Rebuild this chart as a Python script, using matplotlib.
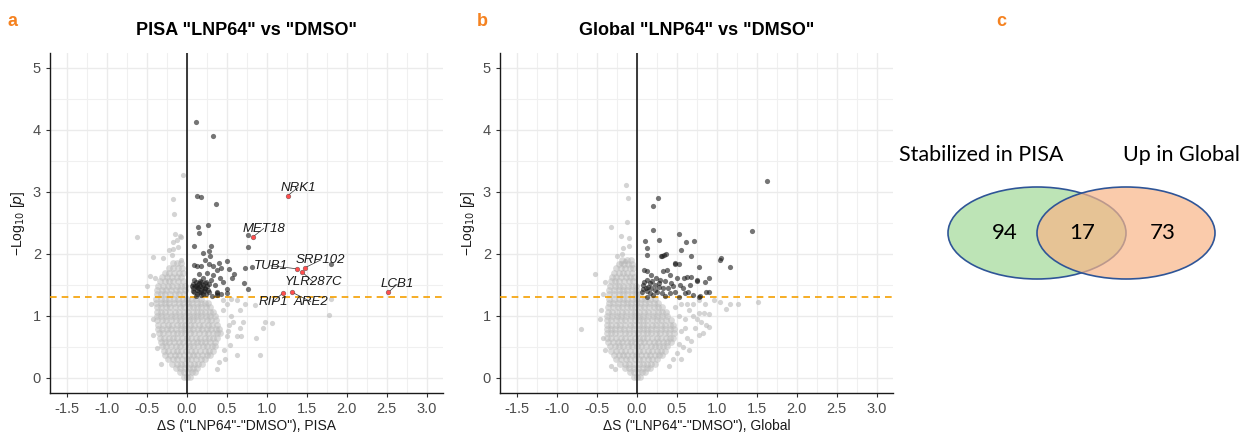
import matplotlib
matplotlib.use("Agg")
import matplotlib.pyplot as plt
from matplotlib.patches import Ellipse
from matplotlib.ticker import MultipleLocator

plt.rcParams['font.family'] = ['Liberation Sans', 'DejaVu Sans']

# ---------------- data: panel a (PISA) ----------------
# dense grey core, one row of points per -log10 p level
pisa_core_y = [0.02, 0.09, 0.16, 0.23, 0.30, 0.37, 0.44, 0.51, 0.58, 0.65, 0.72, 0.79,
               0.86, 0.93, 1.00, 1.07, 1.14, 1.21, 1.28, 1.35, 1.42, 1.49, 1.56, 1.63,
               1.70, 1.78, 1.86]
pisa_core_x = [
    [-0.04, 0.0, 0.04],
    [-0.09, -0.04, 0.01, 0.06, 0.10],
    [-0.14, -0.09, -0.03, 0.02, 0.07, 0.12],
    [-0.19, -0.13, -0.08, -0.02, 0.04, 0.09, 0.14, 0.19],
    [-0.24, -0.18, -0.12, -0.06, 0.0, 0.05, 0.11, 0.17, 0.22],
    [-0.27, -0.21, -0.15, -0.10, -0.04, 0.02, 0.08, 0.13, 0.19, 0.25, 0.29],
    [-0.29, -0.24, -0.18, -0.12, -0.07, -0.01, 0.05, 0.10, 0.16, 0.22, 0.27, 0.32],
    [-0.31, -0.26, -0.20, -0.14, -0.09, -0.03, 0.03, 0.08, 0.14, 0.20, 0.25, 0.31, 0.35],
    [-0.33, -0.27, -0.22, -0.16, -0.10, -0.05, 0.01, 0.07, 0.12, 0.18, 0.23, 0.29, 0.35],
    [-0.34, -0.29, -0.23, -0.17, -0.12, -0.06, 0.0, 0.05, 0.11, 0.16, 0.22, 0.28, 0.33, 0.38],
    [-0.35, -0.30, -0.24, -0.18, -0.13, -0.07, -0.02, 0.04, 0.09, 0.15, 0.21, 0.26, 0.32, 0.38, 0.41],
    [-0.36, -0.31, -0.25, -0.20, -0.14, -0.08, -0.03, 0.03, 0.08, 0.14, 0.19, 0.25, 0.30, 0.36, 0.40],
    [-0.36, -0.30, -0.24, -0.19, -0.13, -0.07, -0.02, 0.04, 0.09, 0.15, 0.20, 0.26, 0.31, 0.37],
    [-0.37, -0.31, -0.26, -0.20, -0.14, -0.09, -0.03, 0.02, 0.08, 0.13, 0.19, 0.25, 0.30, 0.36],
    [-0.37, -0.32, -0.26, -0.20, -0.15, -0.09, -0.04, 0.02, 0.07, 0.13, 0.18, 0.24, 0.29, 0.35],
    [-0.38, -0.32, -0.27, -0.21, -0.15, -0.10, -0.04, 0.01, 0.07, 0.12, 0.18, 0.23, 0.29, 0.33],
    [-0.38, -0.32, -0.26, -0.21, -0.15, -0.09, -0.04, 0.02, 0.07, 0.13, 0.18, 0.24, 0.29],
    [-0.39, -0.33, -0.27, -0.22, -0.16, -0.10, -0.05, 0.01, 0.06, 0.12, 0.17, 0.23, 0.26],
    [-0.39, -0.33, -0.28, -0.22, -0.16, -0.11, -0.05, 0.0, 0.06, 0.11, 0.17],
    [-0.38, -0.32, -0.27, -0.21, -0.15, -0.10, -0.04],
    [-0.37, -0.31, -0.26, -0.20, -0.14, -0.09, -0.03],
    [-0.36, -0.30, -0.24, -0.19, -0.13, -0.07, -0.02],
    [-0.34, -0.28, -0.23, -0.17, -0.11, -0.05],
    [-0.31, -0.25, -0.19, -0.13, -0.07],
    [-0.28, -0.22, -0.16, -0.10, -0.05],
    [-0.23, -0.17, -0.11, -0.06],
    [-0.18, -0.12, -0.07],
]
pisa_grey_x = [-0.63, -0.43, -0.30, -0.07, -0.19, -0.15, -0.09, -0.18, -0.12, -0.08, -0.23,
               -0.17, -0.11, -0.05, -0.18, -0.16, -0.50, -0.45, -0.43, -0.42, -0.38, -0.33,
               -0.46, -0.40,
               0.62, 0.66, 0.66, 0.62, 0.52, 0.50, 0.54, 0.62, 0.46, 0.51, 0.67, 0.86, 0.91,
               0.98, 1.06, 0.95, 0.73, 0.85, 1.78, 1.80, 0.45, 0.50, 0.55, 0.58, 0.40, 0.48,
               0.70, 0.45, 0.55, 0.38]
pisa_grey_y = [2.27, 1.95, 1.93, 1.90, 1.98, 2.32, 2.29, 2.20, 2.23, 2.28, 2.06,
               2.08, 2.12, 3.27, 2.88, 2.65, 1.48, 1.20, 0.95, 0.70, 0.48, 0.22,
               1.65, 1.62,
               1.26, 1.10, 0.80, 0.67, 0.85, 0.67, 0.53, 0.37, 0.45, 0.75, 0.68, 0.65, 0.37,
               0.91, 0.89, 0.80, 1.19, 1.18, 1.02, 1.27, 1.10, 1.20, 1.00, 0.90, 0.25, 0.30,
               0.90, 1.25, 1.28, 0.15]
pisa_sig_x = [0.11, 0.32, 0.12, 0.175, 0.36, 0.14, 0.26, 0.15, 0.76, 0.76, 0.09, 0.30, 0.20,
              0.27, 0.29, 0.22, 0.09, 0.27, 0.32, 0.40, 0.43, 0.52, 0.59, 0.72, 0.82, 0.71,
              0.77, 1.80, 0.12, 0.18, 0.50, 0.50, 0.37, 0.43, 0.25, 0.37, 0.41, 0.38, 0.50,
              0.30, 0.15, 0.33, 0.20, 0.45, 0.35, 0.38, 0.31, 0.56,
              0.07, 0.08, 0.09, 0.10, 0.11, 0.12, 0.12, 0.13, 0.14, 0.15, 0.15, 0.16, 0.17,
              0.18, 0.18, 0.19, 0.20, 0.21, 0.22, 0.23, 0.24, 0.25, 0.26, 0.27, 0.28, 0.09,
              0.07, 0.11, 0.16, 0.20, 0.24, 0.13, 0.17, 0.22, 0.06]
pisa_sig_y = [4.12, 3.90, 2.94, 2.92, 2.80, 2.43, 2.46, 2.34, 2.31, 2.11, 2.13, 2.13, 2.02,
              2.04, 1.96, 1.90, 1.82, 1.83, 1.81, 1.86, 1.78, 1.75, 1.67, 1.77, 1.79, 1.53,
              1.43, 1.83, 1.81, 1.80, 1.89, 1.43, 1.37, 1.36, 1.69, 1.74, 1.61, 1.39, 1.37,
              1.58, 1.68, 1.66, 1.62, 1.55, 1.50, 1.34, 1.33, 1.62,
              1.45, 1.52, 1.38, 1.48, 1.55, 1.42, 1.35, 1.50, 1.45, 1.53, 1.38, 1.48, 1.42,
              1.55, 1.34, 1.46, 1.50, 1.40, 1.53, 1.45, 1.36, 1.49, 1.42, 1.52, 1.38, 1.58,
              1.40, 1.33, 1.57, 1.36, 1.55, 1.46, 1.39, 1.44, 1.48]
# highlighted proteins
pisa_hit_names = ['NRK1', 'MET18', 'TUB1', 'SRP102', 'YLR287C', 'RIP1', 'ARE2', 'LCB1']
pisa_hit_x = [1.26, 0.83, 1.38, 1.48, 1.44, 1.20, 1.32, 2.52]
pisa_hit_y = [2.94, 2.28, 1.76, 1.78, 1.71, 1.37, 1.38, 1.38]
pisa_lab_x = [1.39, 0.96, 1.05, 1.67, 1.58, 1.08, 1.55, 2.63]
pisa_lab_y = [3.07, 2.41, 1.81, 1.90, 1.55, 1.23, 1.23, 1.51]

# ---------------- data: panel b (Global) ----------------
glob_core_y = [0.02, 0.09, 0.16, 0.23, 0.30, 0.37, 0.44, 0.51, 0.58, 0.65, 0.72, 0.79,
               0.86, 0.93, 1.00, 1.07, 1.14, 1.21, 1.28, 1.35, 1.42, 1.49, 1.56, 1.63,
               1.70, 1.77, 1.84, 1.91]
glob_core_x = [
    [-0.04, 0.0, 0.04],
    [-0.09, -0.04, 0.01, 0.06, 0.10],
    [-0.15, -0.10, -0.04, 0.01, 0.07, 0.12, 0.16],
    [-0.21, -0.15, -0.10, -0.04, 0.02, 0.07, 0.13, 0.18, 0.22],
    [-0.26, -0.20, -0.14, -0.09, -0.03, 0.02, 0.08, 0.14, 0.19, 0.25],
    [-0.29, -0.23, -0.18, -0.12, -0.06, -0.01, 0.05, 0.11, 0.16, 0.22, 0.27, 0.31],
    [-0.32, -0.26, -0.20, -0.15, -0.09, -0.03, 0.02, 0.08, 0.14, 0.19, 0.25, 0.30, 0.35],
    [-0.34, -0.28, -0.23, -0.17, -0.11, -0.06, 0.0, 0.05, 0.11, 0.17, 0.22, 0.28, 0.33, 0.38],
    [-0.36, -0.30, -0.24, -0.19, -0.13, -0.07, -0.02, 0.04, 0.09, 0.15, 0.21, 0.26, 0.32, 0.37, 0.42],
    [-0.37, -0.32, -0.26, -0.20, -0.15, -0.09, -0.03, 0.02, 0.08, 0.13, 0.19, 0.25, 0.30, 0.36, 0.41, 0.45],
    [-0.38, -0.32, -0.27, -0.21, -0.15, -0.10, -0.04, 0.01, 0.07, 0.13, 0.18, 0.24, 0.29, 0.35, 0.40, 0.46],
    [-0.38, -0.33, -0.27, -0.21, -0.16, -0.10, -0.04, 0.02, 0.07, 0.13, 0.18, 0.24, 0.30, 0.35, 0.41, 0.46],
    [-0.38, -0.32, -0.26, -0.21, -0.15, -0.09, -0.04, 0.02, 0.08, 0.13, 0.19, 0.24, 0.30, 0.35, 0.41, 0.45],
    [-0.37, -0.32, -0.26, -0.20, -0.15, -0.09, -0.03, 0.02, 0.08, 0.13, 0.19, 0.25, 0.30, 0.36, 0.42],
    [-0.37, -0.31, -0.25, -0.20, -0.14, -0.08, -0.03, 0.03, 0.08, 0.14, 0.20, 0.25, 0.31, 0.37],
    [-0.36, -0.31, -0.25, -0.19, -0.14, -0.08, -0.02, 0.03, 0.09, 0.14, 0.20, 0.26, 0.31, 0.36],
    [-0.36, -0.30, -0.24, -0.19, -0.13, -0.07, -0.02, 0.04, 0.09, 0.15, 0.21, 0.26, 0.31],
    [-0.35, -0.30, -0.24, -0.18, -0.13, -0.07, -0.01, 0.04, 0.10, 0.15, 0.21, 0.26],
    [-0.35, -0.29, -0.23, -0.18, -0.12, -0.06, -0.01, 0.05, 0.10, 0.16, 0.22],
    [-0.35, -0.29, -0.23, -0.18, -0.12, -0.06, -0.01, 0.04],
    [-0.35, -0.29, -0.23, -0.17, -0.12, -0.06, -0.01],
    [-0.34, -0.28, -0.23, -0.17, -0.11, -0.06, -0.01],
    [-0.33, -0.27, -0.22, -0.16, -0.10, -0.05],
    [-0.31, -0.26, -0.20, -0.14, -0.09, -0.04],
    [-0.29, -0.23, -0.17, -0.12, -0.06],
    [-0.26, -0.20, -0.15, -0.09, -0.05],
    [-0.22, -0.16, -0.11, -0.06],
    [-0.19, -0.13, -0.08],
]
glob_grey_x = [-0.70, -0.525, -0.33, -0.13, -0.14, -0.11, -0.20, -0.10, -0.17, -0.10, -0.25,
               -0.19, -0.15, -0.20, -0.42, -0.45, -0.43, -0.40, -0.46, -0.33, -0.28, -0.40,
               0.70, 0.78, 0.84, 0.90, 0.96, 1.04, 1.11, 1.17, 1.27, 1.52, 0.75, 0.80, 0.86,
               0.72, 0.78, 0.83, 0.90, 0.62, 0.68, 0.57, 0.65, 0.52, 0.55, 0.60, 0.65, 0.55,
               0.52, 0.45, 0.50, 0.60, 0.70, 0.62, 0.48, 0.78, 0.85, 0.40, 0.55]
glob_grey_y = [0.79, 1.68, 2.44, 2.52, 3.11, 2.91, 2.29, 2.26, 2.10, 2.13, 1.96,
               2.00, 1.88, 1.86, 1.35, 1.10, 0.65, 0.45, 0.95, 0.20, 0.15, 1.55,
               1.20, 1.05, 1.04, 1.03, 1.25, 1.23, 1.12, 1.20, 1.20, 1.23, 0.95, 0.90, 0.85,
               0.80, 0.70, 0.73, 0.82, 0.65, 0.60, 0.50, 0.45, 0.55, 0.75, 0.95, 1.10, 1.20,
               1.00, 0.30, 0.40, 0.80, 1.00, 1.20, 1.15, 1.25, 1.20, 0.20, 0.30]
glob_sig_x = [1.625, 1.44, 0.26, 0.20, 0.20, 0.10, 0.27, 0.125, 0.13, 0.52, 0.61, 0.71, 0.55,
              0.67, 0.31, 0.34, 0.36, 0.475, 0.52, 1.04, 1.05, 0.775, 1.17, 0.68, 0.75, 0.85,
              0.90, 0.90, 0.78, 0.12, 0.17, 0.13, 0.08, 0.11, 0.16, 0.225, 0.27, 0.29, 0.33,
              0.37, 0.41, 0.48, 0.495, 0.43, 0.39, 0.48, 0.54, 0.59, 0.62, 0.745, 0.87, 0.64,
              0.60, 0.31, 0.25, 0.16, 0.06, 0.13, 0.20, 0.35, 0.41, 0.52, 0.70, 0.09, 0.07,
              0.085, 0.30, 0.18, 0.22, 0.28, 0.14, 0.33, 0.45, 0.24, 0.57, 0.66, 0.19, 0.12,
              0.35, 0.79]
glob_sig_y = [3.18, 2.37, 2.91, 2.78, 2.39, 2.21, 2.23, 2.10, 1.98, 2.32, 2.19, 2.21, 2.06,
              1.96, 1.96, 1.98, 2.00, 1.84, 1.84, 1.91, 1.93, 1.79, 1.79, 1.63, 1.57, 1.54,
              1.61, 1.38, 1.31, 1.73, 1.66, 1.58, 1.50, 1.45, 1.53, 1.50, 1.47, 1.58, 1.72,
              1.74, 1.66, 1.85, 1.61, 1.53, 1.45, 1.39, 1.50, 1.61, 1.63, 1.58, 1.39, 1.39,
              1.37, 1.37, 1.39, 1.37, 1.39, 1.31, 1.34, 1.32, 1.37, 1.31, 1.34, 1.74, 1.44,
              1.55, 1.97, 1.45, 1.42, 1.53, 1.47, 1.45, 1.48, 1.62, 1.45, 1.50, 1.56, 1.40,
              1.57, 1.32]

# ---------------- data: panel c (Venn) ----------------
venn_sets = ['Stabilized in PISA', 'Up in Global']
venn_counts = [94, 17, 73]  # PISA only, both, Global only

x_ticks = [-1.5, -1.0, -0.5, 0.0, 0.5, 1.0, 1.5, 2.0, 2.5, 3.0]
y_ticks = [0, 1, 2, 3, 4, 5]
p_cut = 1.301  # -log10(0.05)

W, H = 1243, 432
fig = plt.figure(figsize=(W / 100, H / 100), dpi=100)


def box(l, t, r, b):
    return [l / W, 1 - b / H, (r - l) / W, (b - t) / H]


def volcano(ax, core_y, core_x, gx, gy, sx, sy, title, xlabel):
    cx = [x for row in core_x for x in row]
    cy = [y for y, row in zip(core_y, core_x) for _ in row]
    # the core is packed tightly, bigger dots there stand in for the overlap
    ax.scatter(cx, cy, s=24, color='#b8b8b8', alpha=0.5, linewidths=0, zorder=2)
    ax.scatter(gx, gy, s=14, color='#b8b8b8', alpha=0.6, linewidths=0, zorder=2)
    ax.axvline(0, color='#1a1a1a', lw=1.2, zorder=3)
    ax.axhline(p_cut, color='#f5a000', lw=1.2, ls=(0, (4, 3)), zorder=3)
    ax.scatter(sx, sy, s=14, color='#1a1a1a', alpha=0.6, linewidths=0, zorder=4)

    ax.set_xlim(-1.715, 3.205)
    ax.set_ylim(-0.242, 5.24)
    ax.set_xticks(x_ticks)
    ax.set_xticklabels(['%.1f' % v for v in x_ticks])
    ax.set_yticks(y_ticks)
    ax.xaxis.set_minor_locator(MultipleLocator(0.25))
    ax.yaxis.set_minor_locator(MultipleLocator(0.5))
    ax.grid(which='major', color='#ebebeb', lw=1.0, zorder=0)
    ax.grid(which='minor', color='#f0f0f0', lw=0.8, zorder=0)
    ax.set_axisbelow(True)
    ax.tick_params(which='minor', length=0)
    ax.tick_params(which='major', length=3, width=0.8, color='#333333',
                   labelcolor='#4d4d4d', labelsize=10.5)
    for side in ['top', 'right']:
        ax.spines[side].set_visible(False)
    for side in ['left', 'bottom']:
        ax.spines[side].set_color('#1a1a1a')
        ax.spines[side].set_linewidth(1.0)
    ax.set_title(title, fontsize=13, fontweight='bold', pad=13)
    ax.set_xlabel(xlabel, fontsize=10, color='#1a1a1a', labelpad=2)
    ax.set_ylabel('\u2212Log$_{10}$ [$\\mathit{p}$]', fontsize=10, color='#1a1a1a', labelpad=4)


ax_a = fig.add_axes(box(50, 53, 443, 393))
volcano(ax_a, pisa_core_y, pisa_core_x, pisa_grey_x, pisa_grey_y, pisa_sig_x, pisa_sig_y,
        'PISA "LNP64" vs "DMSO"', '\u0394S ("LNP64"-"DMSO"), PISA')
ax_a.scatter(pisa_hit_x, pisa_hit_y, s=14, color='#1a1a1a', alpha=0.6, linewidths=0, zorder=5)
ax_a.scatter(pisa_hit_x, pisa_hit_y, s=9, color='#ff4d4d', linewidths=0, zorder=6)
for name, x0, y0, lx, ly in zip(pisa_hit_names, pisa_hit_x, pisa_hit_y, pisa_lab_x, pisa_lab_y):
    ax_a.plot([x0, lx], [y0, ly], color='#333333', lw=0.5, zorder=5)
    ax_a.text(lx, ly, name, fontsize=9.5, style='italic', color='#1a1a1a',
              ha='center', va='center', zorder=7)

ax_b = fig.add_axes(box(500, 53, 893, 393))
volcano(ax_b, glob_core_y, glob_core_x, glob_grey_x, glob_grey_y, glob_sig_x, glob_sig_y,
        'Global "LNP64" vs "DMSO"', '\u0394S ("LNP64"-"DMSO"), Global')

# Venn diagram, drawn in pixel coordinates of its own region
ax_c = fig.add_axes(box(880, 0, 1243, 432))
ax_c.set_xlim(880, 1243)
ax_c.set_ylim(432, 0)
ax_c.axis('off')
ax_c.add_patch(Ellipse((1037, 233), 178, 92, facecolor='#bde4b6', edgecolor='#2f5597', lw=1.2))
ax_c.add_patch(Ellipse((1126, 233), 178, 92, facecolor=(0.973, 0.71, 0.533, 0.7),
                       edgecolor='#2f5597', lw=1.2))
venn_font = ['Lato', 'DejaVu Sans']
ax_c.text(899, 155, venn_sets[0], fontsize=15.5, family=venn_font, ha='left', va='center')
ax_c.text(1123, 155, venn_sets[1], fontsize=15.5, family=venn_font, ha='left', va='center')
for cx, n in zip([1005, 1082, 1163], venn_counts):
    ax_c.text(cx, 233, str(n), fontsize=16, family=venn_font, ha='center', va='center')

# panel letters
for lx, letter in zip([13, 482, 1001], ['a', 'b', 'c']):
    fig.text(lx / W, 1 - 22 / H, letter, color='#f58220', fontsize=13, fontweight='bold',
             ha='center', va='center')

fig.savefig('out.png', dpi=100)
